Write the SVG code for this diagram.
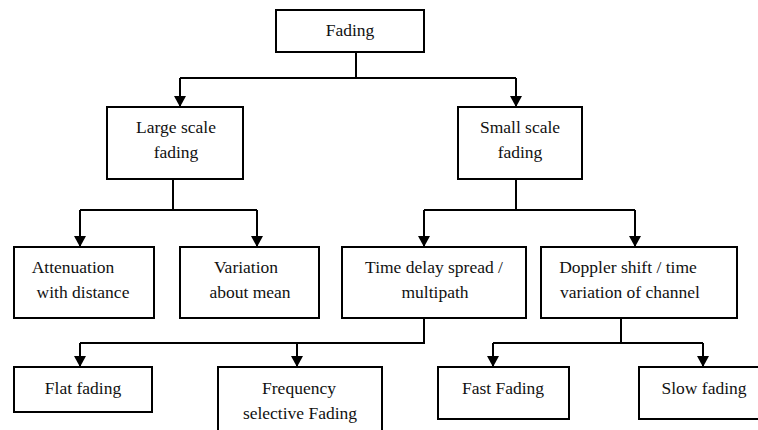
<svg xmlns="http://www.w3.org/2000/svg" width="758" height="430" viewBox="0 0 758 430">
<style>
.box{fill:#fff;stroke:#000;stroke-width:2}
.c{fill:none;stroke:#000;stroke-width:2}
</style>
<defs>
<marker id="ah" viewBox="0 0 10 10" refX="10" refY="5" markerWidth="11" markerHeight="12" markerUnits="userSpaceOnUse" orient="auto" preserveAspectRatio="none">
<path d="M0,0 L10,5 L0,10 z" fill="#000"/>
</marker>
</defs>
<rect width="758" height="430" fill="#fff"/>
<g id="connectors">
<path class="c" d="M356,52 V78"/>
<path class="c" d="M180,78 H516"/>
<path class="c" d="M180,78 V107" marker-end="url(#ah)"/>
<path class="c" d="M516,78 V107" marker-end="url(#ah)"/>
<path class="c" d="M173,179 V210"/>
<path class="c" d="M80,210 H257"/>
<path class="c" d="M80,210 V247" marker-end="url(#ah)"/>
<path class="c" d="M257,210 V247" marker-end="url(#ah)"/>
<path class="c" d="M516,179 V210"/>
<path class="c" d="M424,210 H635"/>
<path class="c" d="M424,210 V247" marker-end="url(#ah)"/>
<path class="c" d="M635,210 V247" marker-end="url(#ah)"/>
<path class="c" d="M424,318 V343 H80"/>
<path class="c" d="M80,343 V367" marker-end="url(#ah)"/>
<path class="c" d="M297,343 V367" marker-end="url(#ah)"/>
<path class="c" d="M621,318 V343"/>
<path class="c" d="M493,343 H703"/>
<path class="c" d="M493,343 V367" marker-end="url(#ah)"/>
<path class="c" d="M703,343 V367" marker-end="url(#ah)"/>
</g>
<g id="fading"><rect class="box" x="276" y="10" width="148" height="42"/><text font-family="Liberation Serif" font-size="17.5" fill="#111" text-anchor="middle" x="350" y="36">Fading</text></g>
<g id="large"><rect class="box" x="107" y="107" width="136" height="72"/><text font-family="Liberation Serif" font-size="17.5" fill="#111" text-anchor="middle" x="176" y="133">Large scale</text><text font-family="Liberation Serif" font-size="17.5" fill="#111" text-anchor="middle" x="176" y="158">fading</text></g>
<g id="small"><rect class="box" x="458" y="107" width="124" height="72"/><text font-family="Liberation Serif" font-size="17.5" fill="#111" text-anchor="middle" x="520" y="133">Small scale</text><text font-family="Liberation Serif" font-size="17.5" fill="#111" text-anchor="middle" x="520" y="158">fading</text></g>
<g id="attenuation"><rect class="box" x="14" y="247" width="140" height="71"/><text font-family="Liberation Serif" font-size="17.5" fill="#111" text-anchor="middle" x="73" y="273">Attenuation</text><text font-family="Liberation Serif" font-size="17.5" fill="#111" text-anchor="middle" x="83" y="298">with distance</text></g>
<g id="variation"><rect class="box" x="180" y="247" width="139" height="71"/><text font-family="Liberation Serif" font-size="17.5" fill="#111" text-anchor="middle" x="246" y="273">Variation</text><text font-family="Liberation Serif" font-size="17.5" fill="#111" text-anchor="middle" x="250" y="298">about mean</text></g>
<g id="timedelay"><rect class="box" x="342" y="247" width="184" height="71"/><text font-family="Liberation Serif" font-size="17.5" fill="#111" text-anchor="middle" x="434" y="273">Time delay spread /</text><text font-family="Liberation Serif" font-size="17.5" fill="#111" text-anchor="middle" x="435" y="298">multipath</text></g>
<g id="doppler"><rect class="box" x="541" y="247" width="196" height="71"/><text font-family="Liberation Serif" font-size="17.5" fill="#111" text-anchor="middle" x="628" y="273">Doppler shift / time</text><text font-family="Liberation Serif" font-size="17.5" fill="#111" text-anchor="middle" x="630" y="298">variation of channel</text></g>
<g id="flat"><rect class="box" x="14" y="367" width="138" height="45"/><text font-family="Liberation Serif" font-size="17.5" fill="#111" text-anchor="middle" x="83" y="394">Flat fading</text></g>
<g id="frequency"><rect class="box" x="218" y="367" width="164" height="70"/><text font-family="Liberation Serif" font-size="17.5" fill="#111" text-anchor="middle" x="299" y="394">Frequency</text><text font-family="Liberation Serif" font-size="17.5" fill="#111" text-anchor="middle" x="300" y="419">selective Fading</text></g>
<g id="fast"><rect class="box" x="438" y="367" width="131" height="52"/><text font-family="Liberation Serif" font-size="17.5" fill="#111" text-anchor="middle" x="503" y="394">Fast Fading</text></g>
<g id="slow"><rect class="box" x="639" y="367" width="124" height="52"/><text font-family="Liberation Serif" font-size="17.5" fill="#111" text-anchor="middle" x="704" y="394">Slow fading</text></g>
</svg>
